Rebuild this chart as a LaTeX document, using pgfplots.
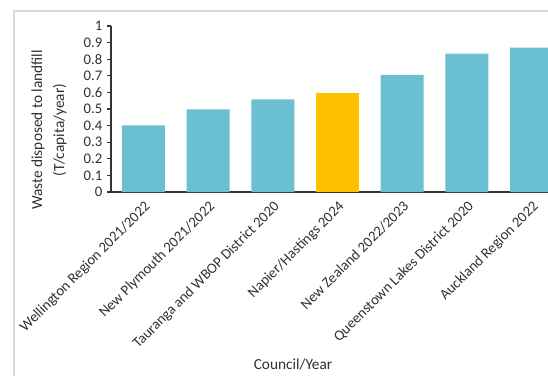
\documentclass[border=0pt]{standalone}
\usepackage{pgfplots}
\pgfplotsset{compat=1.18}
\usepackage{fontspec}
\setmainfont{Carlito}
\definecolor{teal1}{HTML}{6ABFD0}
\definecolor{gold1}{HTML}{FFC000}
\definecolor{txt}{HTML}{303030}
\definecolor{frame1}{HTML}{D9D9D9}
\begin{document}
\begin{tikzpicture}
\useasboundingbox (-83.25pt,-137.25pt) rectangle (327.75pt,144pt);
\clip (-83.25pt,-137.25pt) rectangle (327.75pt,144pt);
\draw[color=frame1, line width=0.8pt] (-72.75pt,-140pt) -- (-72.75pt,135.75pt) -- (330pt,135.75pt);
\begin{axis}[
  at={(0pt,0pt)}, anchor=south west,
  scale only axis, width=327.75pt, height=124.5pt,
  xmin=-0.5, xmax=6.254, ymin=0, ymax=1,
  ytick={0,0.1,0.2,0.3,0.4,0.5,0.6,0.7,0.8,0.9,1},
  xtick={0,1,2,3,4,5,6},
  xticklabels={Wellington Region 2021/2022, New Plymouth 2021/2022, Tauranga and WBOP District 2020, Napier/Hastings 2024, New Zealand 2022/2023, Queenstown Lakes District 2020, Auckland Region 2022},
  x tick label style={rotate=45, anchor=north east, font=\fontsize{11}{13}\selectfont, text=txt, inner sep=2pt},
  y tick label style={font=\fontsize{11}{13}\selectfont, text=txt},
  /pgf/number format/assume math mode=true,
  axis x line*=bottom, axis y line*=left,
  axis line style={line width=1pt, color=black!80},
  ytick style={line width=0.8pt, color=black!80},
  xtick style={draw=none},
  tick align=outside, major tick length=3pt,
  ybar, bar width=32.25pt,
]
\addplot[fill=teal1, draw=none, bar shift=0pt] coordinates {(0,0.402)(1,0.498)(2,0.558)(4,0.705)(5,0.833)(6,0.869)};
\addplot[fill=gold1, draw=none, bar shift=0pt] coordinates {(3,0.595)};
\end{axis}
\node[rotate=90, align=center, text=txt, font=\fontsize{11.5}{16.5}\selectfont] at (-46.5pt,46.5pt) {Waste disposed to landfill\\(T/capita/year)};
\node[text=txt, font=\fontsize{11.5}{13}\selectfont] at (136.5pt,-129pt) {Council/Year};
\end{tikzpicture}
\end{document}
